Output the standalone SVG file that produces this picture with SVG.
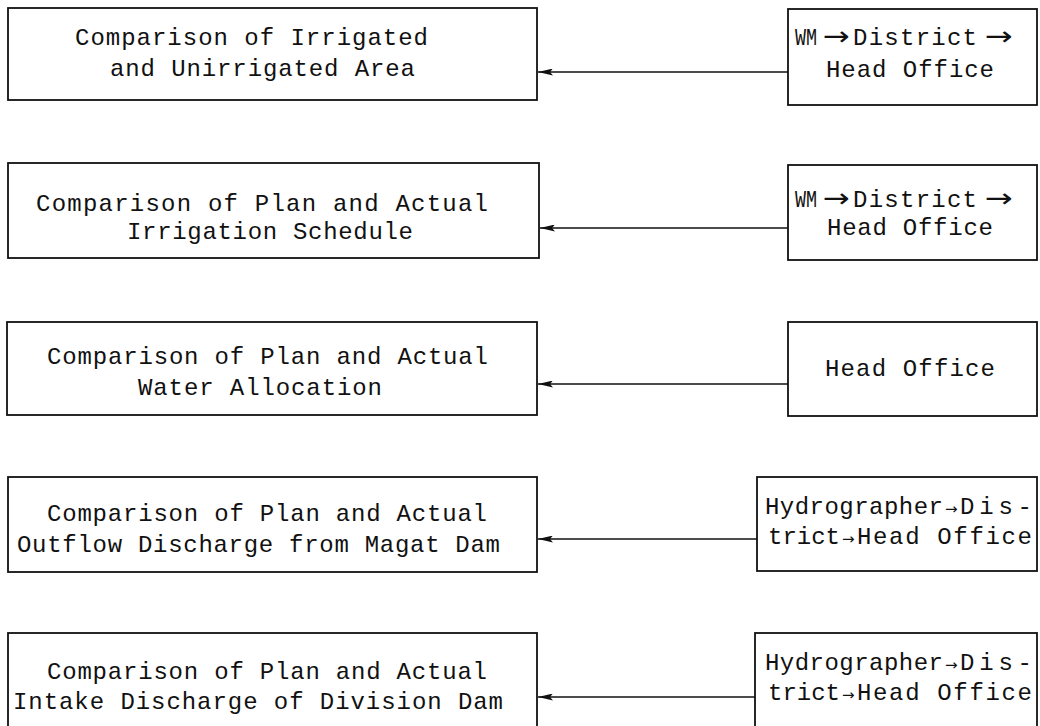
<svg xmlns="http://www.w3.org/2000/svg" width="1040" height="726" viewBox="0 0 1040 726">
<defs>
<style>
.box{fill:#fff;stroke:#111;stroke-width:1.8}
.t{font-family:"Liberation Mono","DejaVu Sans Mono",monospace;font-size:24px;fill:#111}
.a{font-family:"DejaVu Sans",sans-serif;font-size:26px}
.s{font-family:"DejaVu Sans",sans-serif;font-size:15px}
.c{stroke:#111;stroke-width:1.6;fill:none}
</style>
<marker id="ah" viewBox="0 0 15 7" refX="15" refY="3.5" markerWidth="15" markerHeight="7" markerUnits="userSpaceOnUse" orient="auto">
<path d="M0,0 L15,3.5 L0,7 L3,3.5 Z" fill="#111"/>
</marker>
</defs>
<rect width="1040" height="726" fill="#fff"/>
<g id="l1"><rect class="box" x="8" y="8" width="529" height="92"/>
<text class="t" x="75" y="45" textLength="353">Comparison of Irrigated</text>
<text class="t" x="110" y="76" textLength="305">and Unirrigated Area</text></g>
<g id="l2"><rect class="box" x="8" y="163" width="531" height="95"/>
<text class="t" x="36" y="211" textLength="452">Comparison of Plan and Actual</text>
<text class="t" x="127" y="239" textLength="286">Irrigation Schedule</text></g>
<g id="l3"><rect class="box" x="7" y="322" width="530" height="93"/>
<text class="t" x="47" y="364" textLength="441">Comparison of Plan and Actual</text>
<text class="t" x="138" y="395" textLength="244">Water Allocation</text></g>
<g id="l4"><rect class="box" x="8" y="477" width="529" height="95"/>
<text class="t" x="47" y="521" textLength="440">Comparison of Plan and Actual</text>
<text class="t" x="17" y="552" textLength="483">Outflow Discharge from Magat Dam</text></g>
<g id="l5"><rect class="box" x="8" y="633" width="529" height="100"/>
<text class="t" x="47" y="679" textLength="440">Comparison of Plan and Actual</text>
<text class="t" x="13" y="709" textLength="490">Intake Discharge of Division Dam</text></g>
<g id="r1"><rect class="box" x="788" y="9" width="249" height="96"/>
<text class="t" y="45"><tspan x="795" textLength="22" lengthAdjust="spacingAndGlyphs">WM</tspan><tspan class="a" x="823" textLength="27" lengthAdjust="spacingAndGlyphs">→</tspan><tspan x="853" textLength="124">District</tspan><tspan class="a" x="985" textLength="28" lengthAdjust="spacingAndGlyphs">→</tspan></text>
<text class="t" x="826" y="77" textLength="168">Head Office</text></g>
<g id="r2"><rect class="box" x="788" y="165" width="249" height="95"/>
<text class="t" y="207"><tspan x="795" textLength="22" lengthAdjust="spacingAndGlyphs">WM</tspan><tspan class="a" x="823" textLength="27" lengthAdjust="spacingAndGlyphs">→</tspan><tspan x="853" textLength="124">District</tspan><tspan class="a" x="985" textLength="28" lengthAdjust="spacingAndGlyphs">→</tspan></text>
<text class="t" x="827" y="235" textLength="166">Head Office</text></g>
<g id="r3"><rect class="box" x="788" y="322" width="249" height="94"/>
<text class="t" x="825" y="376" textLength="170">Head Office</text></g>
<g id="r4"><rect class="box" x="757" y="477" width="280" height="94"/>
<text class="t" y="514"><tspan x="765" textLength="178">Hydrographer</tspan><tspan class="s" x="945">→</tspan><tspan x="960" textLength="72">Dis-</tspan></text>
<text class="t" y="544"><tspan x="768" textLength="72">trict</tspan><tspan class="s" x="842">→</tspan><tspan x="857" textLength="175">Head Office</tspan></text></g>
<g id="r5"><rect class="box" x="755" y="633" width="282" height="100"/>
<text class="t" y="670"><tspan x="765" textLength="178">Hydrographer</tspan><tspan class="s" x="945">→</tspan><tspan x="960" textLength="72">Dis-</tspan></text>
<text class="t" y="700"><tspan x="768" textLength="72">trict</tspan><tspan class="s" x="842">→</tspan><tspan x="857" textLength="175">Head Office</tspan></text></g>
<g id="connectors">
<line class="c" x1="788" y1="72" x2="538" y2="72" marker-end="url(#ah)"/>
<line class="c" x1="788" y1="228" x2="540" y2="228" marker-end="url(#ah)"/>
<line class="c" x1="788" y1="384" x2="538" y2="384" marker-end="url(#ah)"/>
<line class="c" x1="757" y1="539" x2="538" y2="539" marker-end="url(#ah)"/>
<line class="c" x1="755" y1="697" x2="538" y2="697" marker-end="url(#ah)"/>
</g>
</svg>
